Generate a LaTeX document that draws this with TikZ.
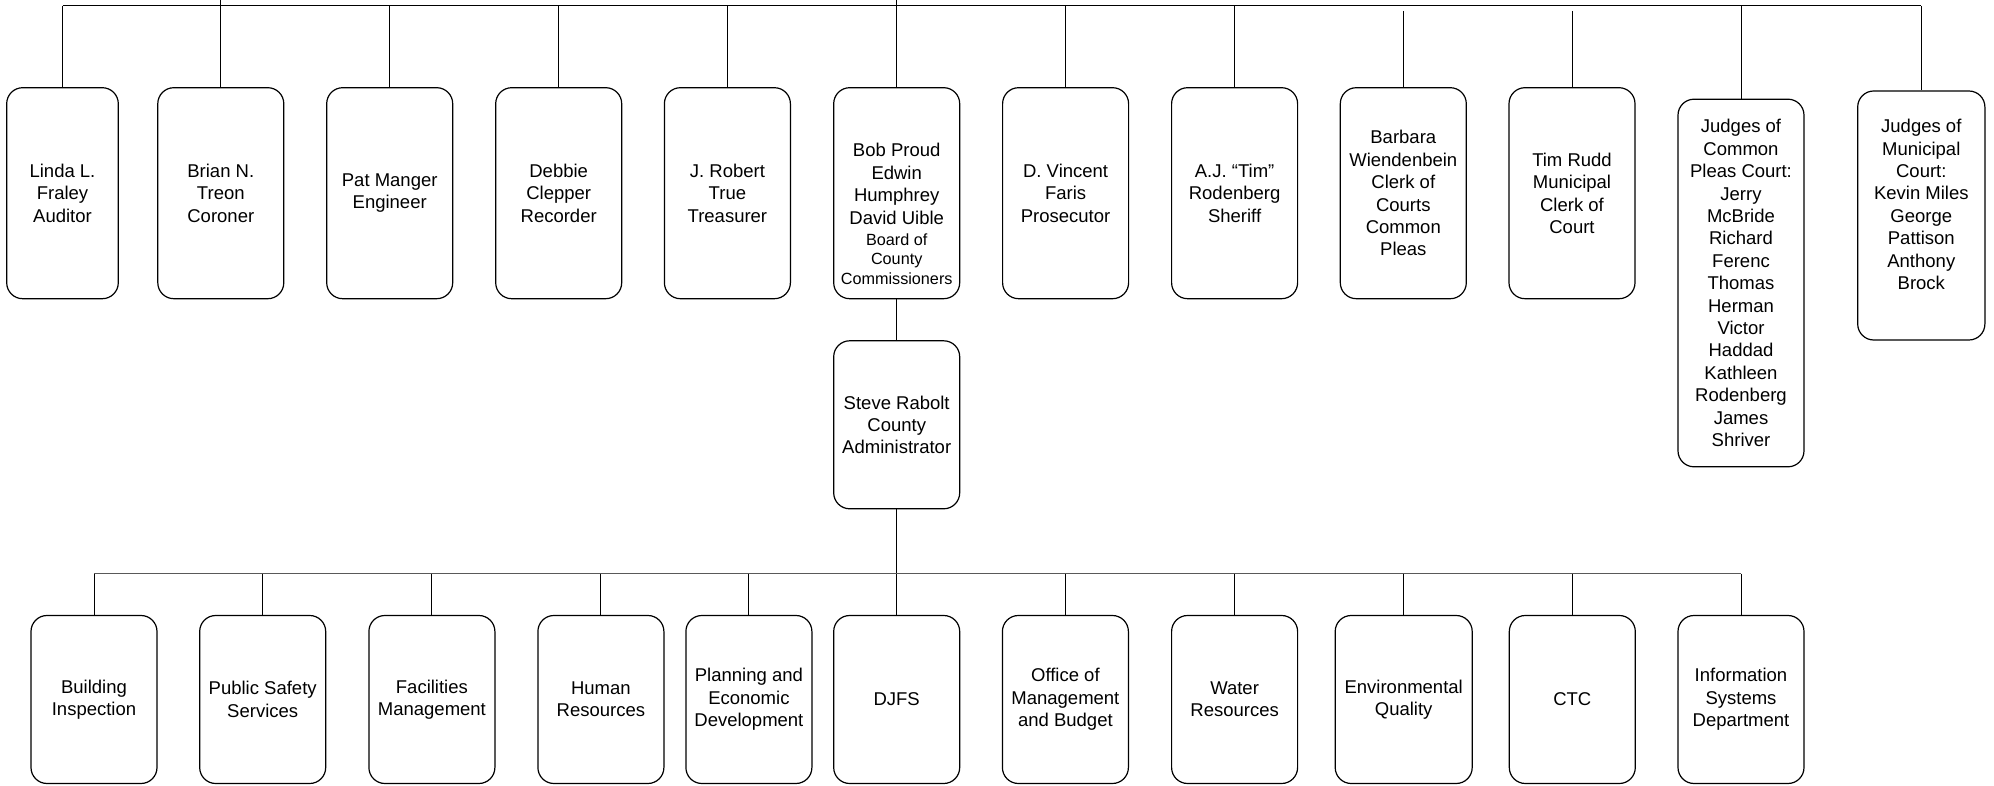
\documentclass[tikz,border=0pt]{standalone}
\usepackage{fontspec}
\setmainfont{Liberation Sans}
\tikzset{
  unit/.style={draw, line width=0.6pt, rounded corners=8pt, align=center, minimum width=63pt, minimum height=105.5pt, inner sep=1pt, font=\fontsize{9.25}{11.2}\selectfont},
  dept/.style={unit, minimum height=84pt},
  link/.style={line width=0.5pt},
  lowlink/.style={line width=0.9pt, black!65},
}
\newcommand{\brd}[1]{{\fontsize{8.1}{9.5}\selectfont #1}}
\begin{document}
\begin{tikzpicture}[x=0.5pt,y=0.5pt,yscale=-1,xscale=1]
\useasboundingbox (0,0) rectangle (1994,786);

%Shape: Elected offices
\node[unit, minimum width=55.8pt] (linda) at (62.5,193.2) {Linda L.\\Fraley\\Auditor};
\node[unit] (brian) at (220.8,193.2) {Brian N.\\Treon\\Coroner};
\node[unit] (pat) at (389.7,193.2) {Pat Manger\\Engineer};
\node[unit] (debbie) at (558.7,193.2) {Debbie\\Clepper\\Recorder};
\node[unit] (robert) at (727.4,193.2) {J. Robert\\True\\Treasurer};
\node[unit] (board) at (896.7,193.2) {\mbox{}\\[16.3pt]Bob Proud\\Edwin\\Humphrey\\David Uible\\[-0.5pt]\brd{Board of}\\[-1.5pt]\brd{County}\\[-1.5pt]\brd{Commissioners}};
\node[unit] (vincent) at (1065.6,193.2) {D. Vincent\\Faris\\Prosecutor};
\node[unit] (sheriff) at (1234.6,193.2) {A.J. “Tim”\\Rodenberg\\Sheriff};
\node[unit] (clerk) at (1403.3,193.2) {Barbara\\Wiendenbein\\Clerk of\\Courts\\Common\\Pleas};
\node[unit] (rudd) at (1572,193.2) {Tim Rudd\\Municipal\\Clerk of\\Court};
\node[unit, minimum height=183.8pt] (pleasjudges) at (1741,283) {Judges of\\Common\\Pleas Court:\\Jerry\\McBride\\Richard\\Ferenc\\Thomas\\Herman\\Victor\\Haddad\\Kathleen\\Rodenberg\\James\\Shriver};
\node[unit, minimum width=63.6pt, minimum height=124.5pt] (munijudges) at (1921.3,215.5) {Judges of\\Municipal\\Court:\\Kevin Miles\\George\\Pattison\\Anthony\\Brock\\\mbox{}};

%Shape: Administrator
\node[dept] (admin) at (896.7,424.8) {Steve Rabolt\\County\\Administrator};

%Shape: Departments
\node[dept] (building) at (94,699.5) {Building\\Inspection};
\node[dept] (safety) at (262.7,699.5) {Public Safety\\Services};
\node[dept] (facilities) at (431.9,699.5) {Facilities\\Management};
\node[dept] (hr) at (600.9,699.5) {Human\\Resources};
\node[dept] (planning) at (748.9,699.5) {Planning and\\Economic\\Development};
\node[dept] (djfs) at (896.7,699.5) {DJFS};
\node[dept] (omb) at (1065.4,699.5) {Office of\\Management\\and Budget};
\node[dept] (water) at (1234.6,699.5) {Water\\Resources};
\node[dept, minimum width=68.5pt] (environment) at (1403.7,699.5) {Environmental\\Quality};
\node[dept] (ctc) at (1572.3,699.5) {CTC};
\node[dept] (infosys) at (1741,699.5) {Information\\Systems\\Department};

%Straight Lines
\coordinate (top) at (896.7,0);
\coordinate (bus) at (0,6);
\coordinate (gap) at (0,11);
\coordinate (lowbus) at (0,573.5);
\draw[link] (linda.north |- bus) -- (munijudges.north |- bus);
\draw[link] (top) -- (board.north);
\draw[link] (brian.north |- top) -- (brian.north);
\foreach \n in {linda,pat,debbie,robert,vincent,sheriff,pleasjudges,munijudges}
  \draw[link] (\n.north |- bus) -- (\n.north);
\foreach \n in {clerk,rudd}
  \draw[link] (\n.north |- gap) -- (\n.north);
\draw[link] (board.south) -- (admin.north);
\draw[link] (admin.south) -- (djfs.north);
\draw[lowlink] (building.north |- lowbus) -- (infosys.north |- lowbus);
\foreach \n in {building,safety,facilities,hr,planning,omb,water,environment,ctc,infosys}
  \draw[link] (\n.north |- lowbus) -- (\n.north);

\end{tikzpicture}
\end{document}
